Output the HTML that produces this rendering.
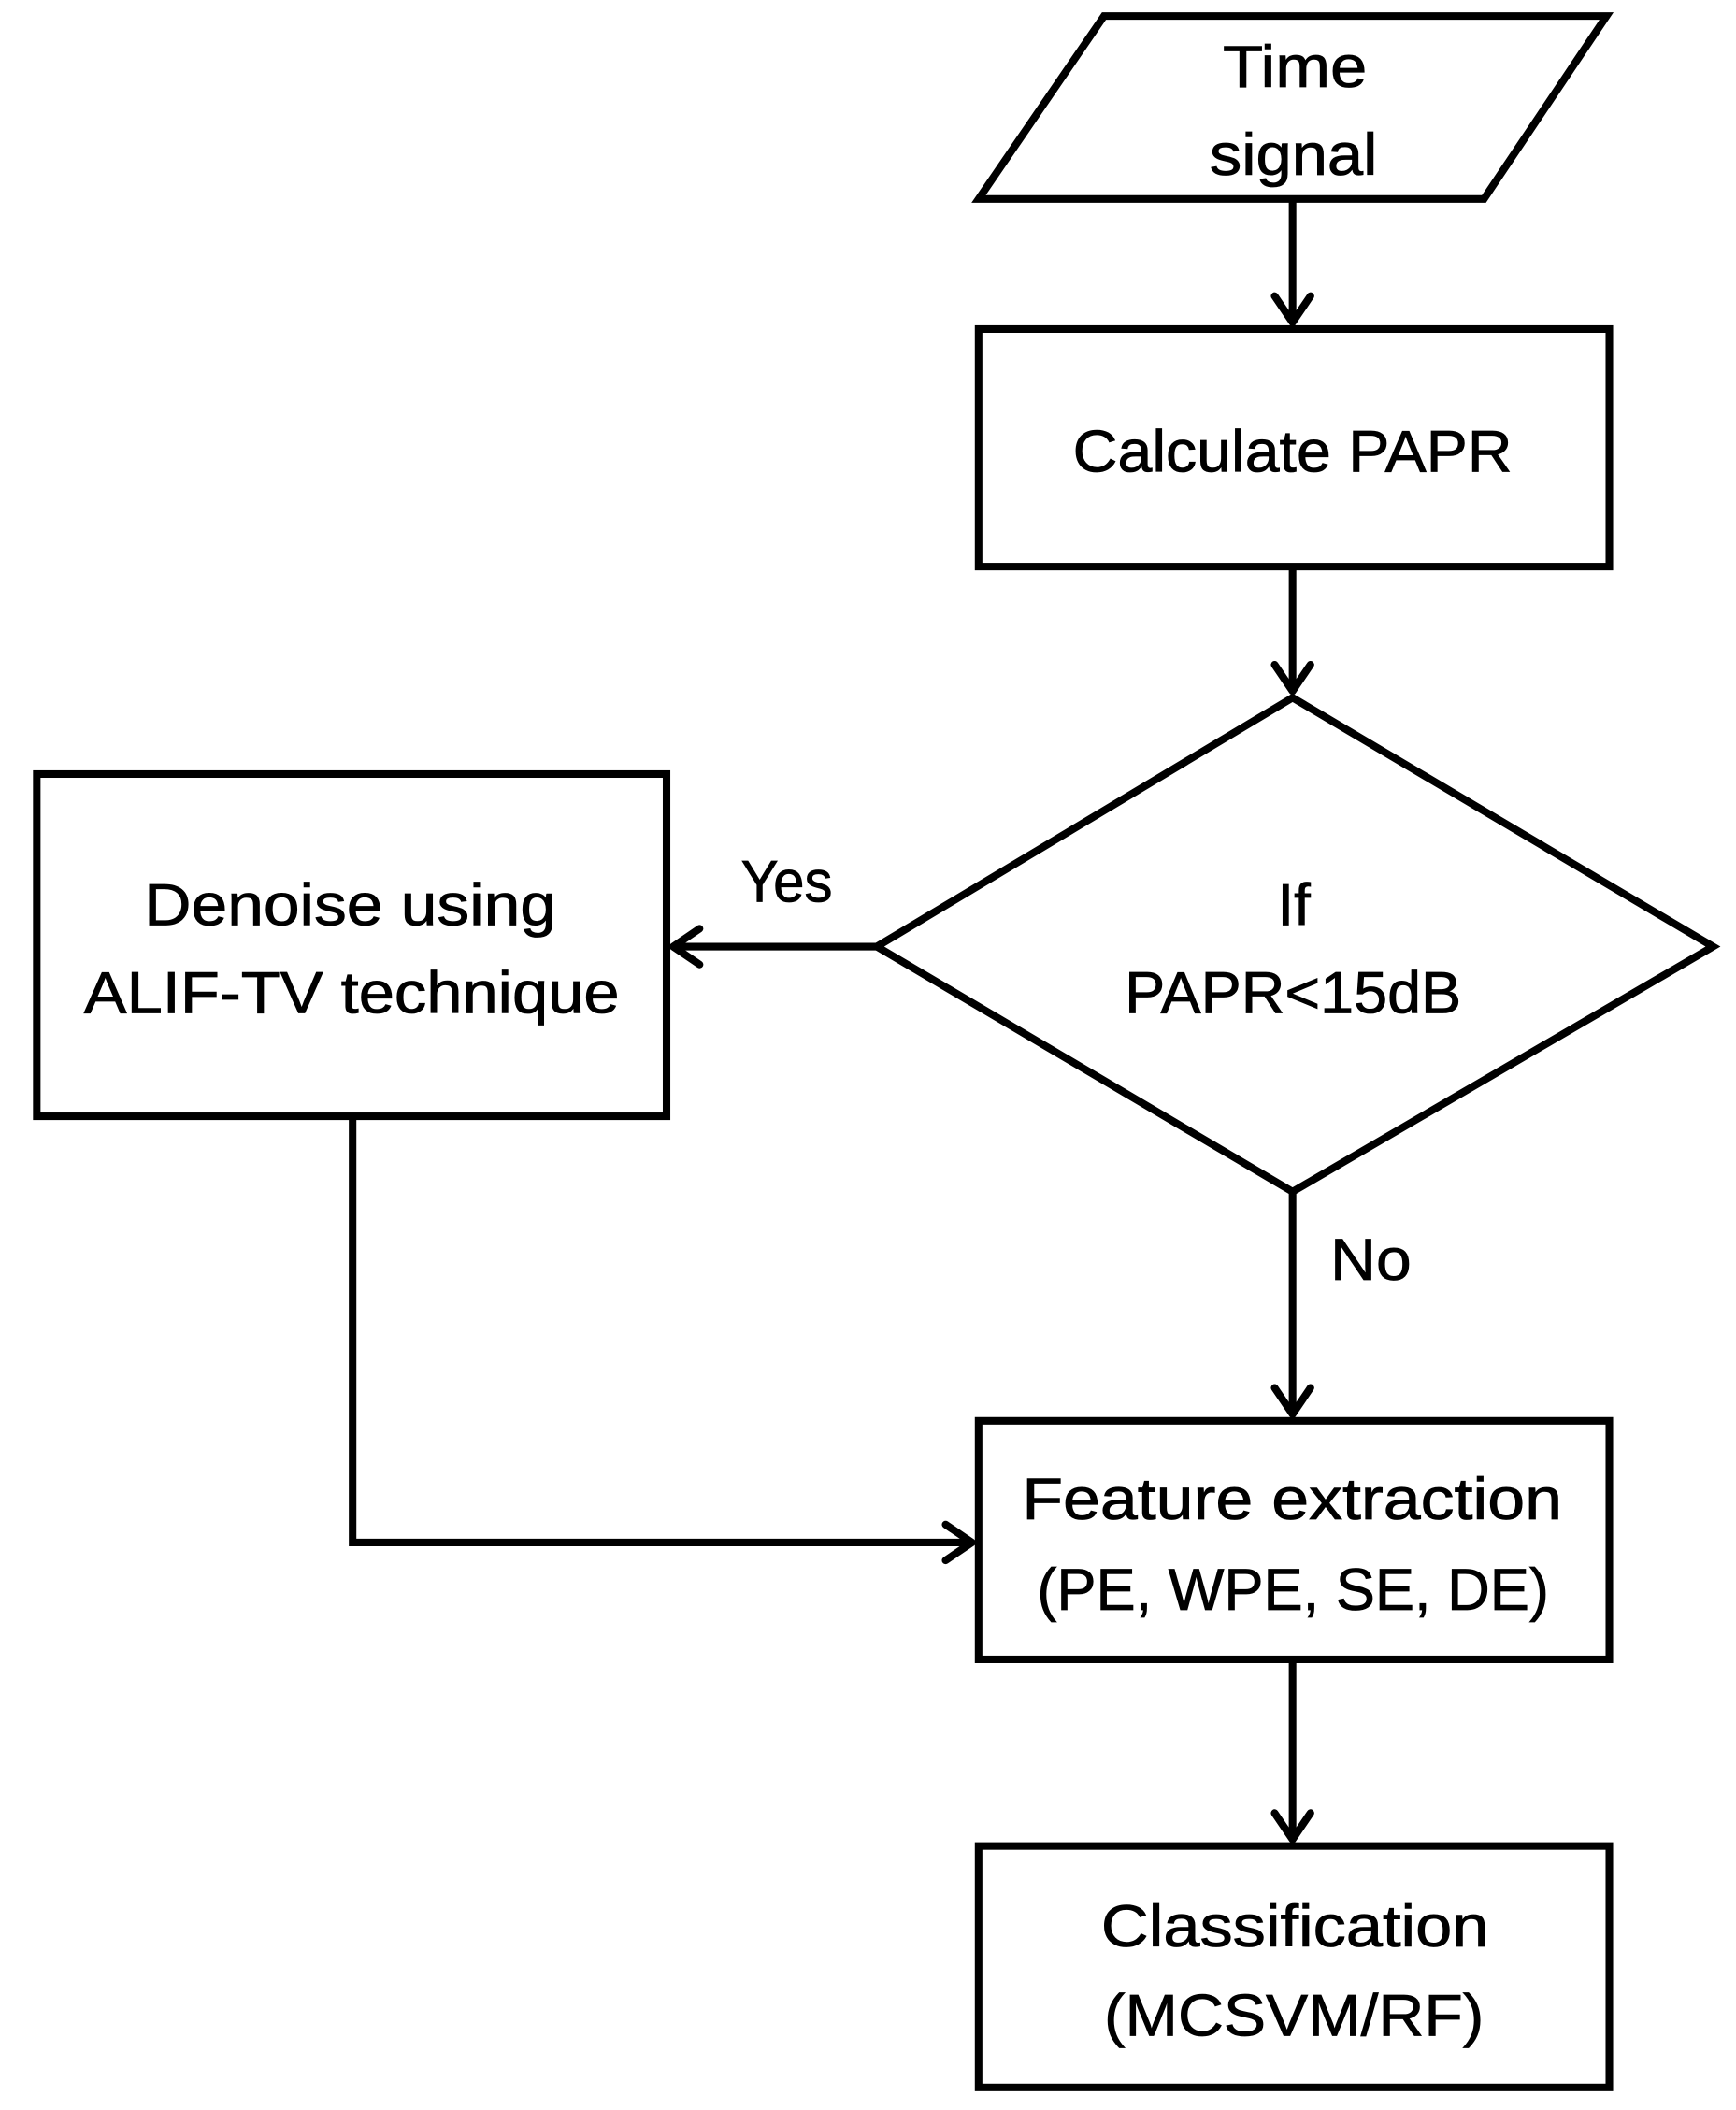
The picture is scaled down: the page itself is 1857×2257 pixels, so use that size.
<!DOCTYPE html>
<html><head><meta charset="utf-8"><style>html,body{margin:0;padding:0;background:#fff}svg{display:block}</style></head>
<body>
<svg width="1857" height="2257" viewBox="0 0 1857 2257" xmlns="http://www.w3.org/2000/svg">
<g transform="scale(1.0085)">
<g fill="none" stroke="#000" stroke-width="8" stroke-linejoin="miter">
<polygon points="1171,17 1704,17 1574,211 1038,211"/>
<rect x="1038" y="349" width="669" height="252"/>
<polygon points="1371,740 1817,1004 1371,1264 930,1004"/>
<rect x="39" y="821" width="668" height="363"/>
<rect x="1038" y="1507" width="669" height="253"/>
<rect x="1038" y="1958" width="669" height="256"/>
<line x1="1371" y1="211" x2="1371" y2="343"/>
<line x1="1371" y1="601" x2="1371" y2="734"/>
<line x1="930" y1="1004" x2="713" y2="1004"/>
<line x1="1371" y1="1264" x2="1371" y2="1501"/>
<polyline points="374,1184 374,1636 1032,1636"/>
<line x1="1371" y1="1760" x2="1371" y2="1952"/>
</g>
<g fill="none" stroke="#000" stroke-width="8" stroke-linecap="round" stroke-linejoin="round">
<polyline points="1352,314 1371,342 1390,314"/>
<polyline points="1352,705 1371,733 1390,705"/>
<polyline points="742,985 714,1004 742,1023"/>
<polyline points="1352,1472 1371,1500 1390,1472"/>
<polyline points="1003,1617 1031,1636 1003,1655"/>
<polyline points="1352,1923 1371,1951 1390,1923"/>
</g>
<g font-family="'Liberation Sans', sans-serif" font-size="63" fill="#000" stroke="#000" stroke-width="0.8" dominant-baseline="central" text-anchor="start">
<text x="1297" y="71" textLength="153" lengthAdjust="spacingAndGlyphs">Time</text>
<text x="1283" y="164" textLength="178" lengthAdjust="spacingAndGlyphs">signal</text>
<text x="1138" y="479" textLength="466" lengthAdjust="spacingAndGlyphs">Calculate PAPR</text>
<text x="153" y="960" textLength="437" lengthAdjust="spacingAndGlyphs">Denoise using</text>
<text x="89" y="1053" textLength="568" lengthAdjust="spacingAndGlyphs">ALIF-TV technique</text>
<text x="786" y="935" textLength="97" lengthAdjust="spacingAndGlyphs">Yes</text>
<text x="1355" y="960" textLength="35" lengthAdjust="spacingAndGlyphs">If</text>
<text x="1193" y="1053" textLength="357" lengthAdjust="spacingAndGlyphs">PAPR&lt;15dB</text>
<text x="1411" y="1336" textLength="86" lengthAdjust="spacingAndGlyphs">No</text>
<text x="1084" y="1590" textLength="573" lengthAdjust="spacingAndGlyphs">Feature extraction</text>
<text x="1100" y="1686" textLength="543" lengthAdjust="spacingAndGlyphs">(PE, WPE, SE, DE)</text>
<text x="1168" y="2043" textLength="411" lengthAdjust="spacingAndGlyphs">Classification</text>
<text x="1171" y="2138" textLength="403" lengthAdjust="spacingAndGlyphs">(MCSVM/RF)</text>
</g>
</g>
</svg>
</body></html>
